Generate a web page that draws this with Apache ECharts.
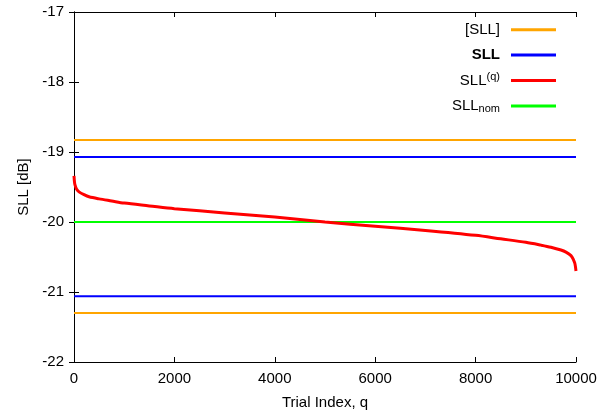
<!DOCTYPE html>
<html><head><meta charset="utf-8">
<script src="https://cdn.jsdelivr.net/npm/echarts@6/dist/echarts.min.js"></script>
<style>html,body{margin:0;padding:0;background:#fff}#c{width:603px;height:418px}</style>
</head><body><div id="c"></div>
<script>
var xTicks = [0, 2000, 4000, 6000, 8000, 10000];
var yTicks = [-22, -21, -20, -19, -18, -17];
var boundUpper = -18.83, boundLower = -21.30;
var sllUpper = -19.07, sllLower = -21.06;
var sllNom = -20.0;
var trialQ = [0, 10, 20, 50, 100, 200, 300, 500, 750, 1000, 1500, 2000, 3000, 4000, 5000, 6000, 7000, 8000, 8500, 9000, 9300, 9500, 9700, 9800, 9900, 9950, 9980, 10000];
var trialSLL = [-19.34, -19.43, -19.47, -19.53, -19.57, -19.61, -19.64, -19.67, -19.70, -19.73, -19.77, -19.81, -19.87, -19.93, -20.00, -20.06, -20.12, -20.19, -20.24, -20.29, -20.33, -20.36, -20.40, -20.43, -20.48, -20.54, -20.60, -20.70];

var chart = echarts.init(document.getElementById('c'));
var font = 'Liberation Sans, Arial, sans-serif';
var fs = 15;
function hline(name, v, color) {
  return {name: name, type: 'line', data: [[0, v], [10000, v]], showSymbol: false, lineStyle: {color: color, width: 2}, itemStyle: {color: color}, silent: true, animation: false};
}
var series = [
  hline('[SLL]', boundUpper, '#ffa500'),
  hline('[SLL]', boundLower, '#ffa500'),
  hline('SLL', sllUpper, '#0000ff'),
  hline('SLL', sllLower, '#0000ff'),
  {name: 'SLLq', type: 'line', data: trialQ.map(function(q, i){return [q, trialSLL[i]];}), showSymbol: false, smooth: 0.3, lineStyle: {color: '#ff0000', width: 3}, itemStyle: {color: '#ff0000'}, animation: false, z: 5},
  hline('SLLnom', sllNom, '#00ff00')
];
var labels = {'[SLL]': '[SLL]', 'SLL': '{b|SLL}', 'SLLq': 'SLL{sup|(q)}', 'SLLnom': 'SLL{sub|nom}'};
var axisCommon = {axisLine: {show: true, lineStyle: {color: '#000', width: 1}}, axisTick: {show: true, inside: true, length: 5, lineStyle: {color: '#000'}}, splitLine: {show: false}};
chart.setOption({
  backgroundColor: '#fff',
  animation: false,
  grid: {left: 74, right: 27, top: 12, bottom: 56},
  legend: {
    data: ['[SLL]', 'SLL', 'SLLq', 'SLLnom'],
    orient: 'vertical', align: 'right', right: 42, top: 16,
    itemWidth: 45, itemHeight: 3, itemGap: 8, icon: 'rect',
    formatter: function(n){return labels[n];},
    textStyle: {fontFamily: font, fontSize: fs, color: '#000', lineHeight: 17.4, padding: [0, 6, 0, 0],
      rich: {b: {fontWeight: 'bold', fontSize: fs, fontFamily: font, color: '#000'},
             sup: {fontSize: 11, fontFamily: font, verticalAlign: 'top', padding: [0,0,7,0], color: '#000'},
             sub: {fontSize: 11, fontFamily: font, verticalAlign: 'bottom', padding: [7,0,0,0], color: '#000'}}}
  },
  xAxis: [
    Object.assign({type: 'value', min: 0, max: 10000, interval: 2000, position: 'bottom',
      name: 'Trial Index, q', nameLocation: 'middle', nameGap: 33,
      nameTextStyle: {fontFamily: font, fontSize: fs, color: '#000'},
      axisLabel: {fontFamily: font, fontSize: fs, color: '#000', margin: 9, formatter: function(v){return String(v);}}}, axisCommon),
    Object.assign({type: 'value', min: 0, max: 10000, interval: 2000, position: 'top', axisLabel: {show: false}}, axisCommon)
  ],
  yAxis: [
    Object.assign({type: 'value', min: -22, max: -17, interval: 1, position: 'left',
      name: 'SLL [dB]', nameLocation: 'middle', nameGap: 32, nameRotate: 90,
      nameTextStyle: {fontFamily: font, fontSize: fs, color: '#000'},
      axisLabel: {fontFamily: font, fontSize: fs, color: '#000', margin: 10, formatter: function(v){return String(v);}}}, axisCommon),
    Object.assign({type: 'value', min: -22, max: -17, interval: 1, position: 'right', axisLabel: {show: false}}, axisCommon)
  ],
  series: series
});
</script></body></html>
